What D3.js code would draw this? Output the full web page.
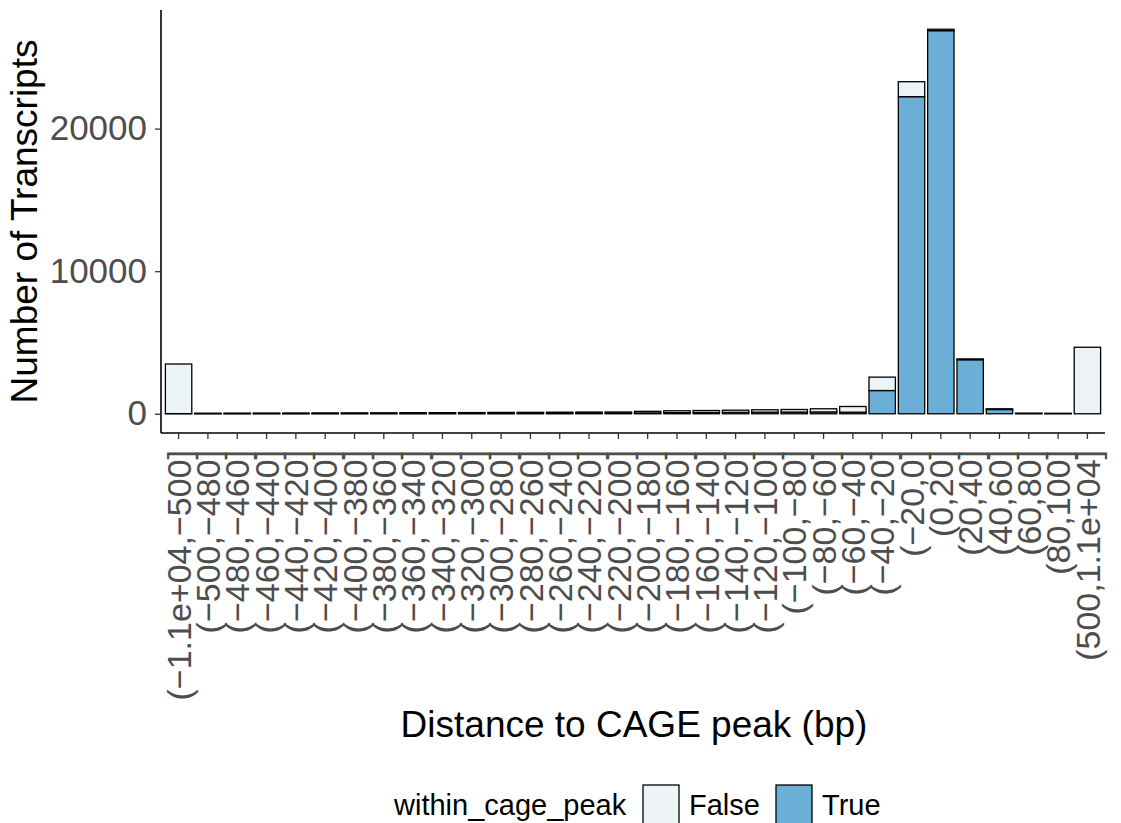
<!DOCTYPE html>
<html>
<head>
<meta charset="utf-8">
<script src="https://cdn.jsdelivr.net/npm/d3@7"></script>
<style>
  html, body { margin: 0; padding: 0; background: #ffffff; }
  svg { display: block; font-family: "Liberation Sans", Arial, sans-serif; }
</style>
</head>
<body>
<svg id="chart" width="1121" height="823"></svg>
<script>
// Distance bins (bp) relative to the CAGE peak
const bins = [
  "(−1.1e+04,−500]", "(−500,−480]", "(−480,−460]", "(−460,−440]", "(−440,−420]",
  "(−420,−400]", "(−400,−380]", "(−380,−360]", "(−360,−340]", "(−340,−320]",
  "(−320,−300]", "(−300,−280]", "(−280,−260]", "(−260,−240]", "(−240,−220]",
  "(−220,−200]", "(−200,−180]", "(−180,−160]", "(−160,−140]", "(−140,−120]",
  "(−120,−100]", "(−100,−80]", "(−80,−60]", "(−60,−40]", "(−40,−20]",
  "(−20,0]", "(0,20]", "(20,40]", "(40,60]", "(60,80]", "(80,100]", "(500,1.1e+04]"
];

// Transcript counts per bin, split by within_cage_peak
const countsTrue = [
  10, 10, 10, 12, 12, 15, 15, 18, 18, 20,
  20, 22, 25, 25, 30, 30, 60, 80, 90, 100,
  110, 120, 130, 110, 1630, 22240, 26870, 3790, 300, 20,
  15, 0
];
const countsFalse = [
  3480, 30, 35, 38, 43, 45, 50, 52, 57, 60,
  65, 73, 75, 85, 90, 95, 110, 130, 140, 150,
  170, 180, 220, 400, 940, 1050, 100, 60, 50, 20,
  15, 4665
];

const groups = ["False", "True"];
const groupColors = ["#EDF4F8", "#6BAED6"];
const yTicks = [0, 10000, 20000];

const svg = d3.select("#chart");
const panel = { left: 161, right: 1105, top: 10, bottom: 433 };
const font = "'Liberation Sans', Arial, sans-serif";

const rows = bins.map((b, i) => ({ bin: b, True: countsTrue[i], False: countsFalse[i] }));
// True sits at the bottom of each stack, False above it
const stack = d3.stack().keys(["True", "False"])(rows);

const maxTotal = d3.max(rows, d => d.True + d.False);
const pad = 0.05 * maxTotal;

// Outer padding chosen so the first/last bar centres sit 0.6 steps in from the panel edges
const x = d3.scaleBand()
  .domain(bins)
  .range([panel.left, panel.right])
  .paddingInner(0.1)
  .paddingOuter(0.15);

const y = d3.scaleLinear()
  .domain([-pad, maxTotal + pad])
  .range([panel.bottom, panel.top]);

const color = d3.scaleOrdinal().domain(groups).range(groupColors);

// Bars
svg.append("g")
  .selectAll("g")
  .data(stack)
  .join("g")
  .attr("fill", d => color(d.key))
  .selectAll("rect")
  .data(d => d)
  .join("rect")
  .attr("x", d => x(d.data.bin))
  .attr("width", x.bandwidth())
  .attr("y", d => y(d[1]))
  .attr("height", d => Math.max(0, y(d[0]) - y(d[1])))
  .attr("stroke", "#000")
  .attr("stroke-width", 1.3);

// Y axis
const yAxis = svg.append("g")
  .attr("transform", `translate(${panel.left},0)`)
  .call(d3.axisLeft(y).tickValues(yTicks).tickFormat(d3.format("d")).tickSize(6).tickPadding(8));
yAxis.select(".domain").attr("d", `M0,${panel.top}V${panel.bottom}`).attr("stroke", "#000").attr("stroke-width", 1.6);
yAxis.selectAll(".tick line").attr("stroke", "#333").attr("stroke-width", 1.3);
yAxis.selectAll(".tick text")
  .attr("fill", "#4D4D4D")
  .style("font-size", "35px")
  .style("font-family", font);

// X axis
const xAxis = svg.append("g")
  .attr("transform", `translate(0,${panel.bottom})`)
  .call(d3.axisBottom(x).tickSize(6).tickSizeOuter(0));
xAxis.select(".domain").attr("d", `M${panel.left},0H${panel.right}`).attr("stroke", "#000").attr("stroke-width", 1.6);
xAxis.selectAll(".tick line").attr("stroke", "#333").attr("stroke-width", 1.3);
xAxis.selectAll(".tick text")
  .attr("fill", "#4D4D4D")
  .style("font-size", "34px")
  .style("font-family", font)
  .attr("text-anchor", "end")
  .attr("transform", "translate(0,17) rotate(-90)")
  .attr("x", 0)
  .attr("y", 0)
  .attr("dy", "0.36em");

// Axis titles
svg.append("text")
  .attr("x", 634)
  .attr("y", 737)
  .attr("text-anchor", "middle")
  .style("font-size", "37px")
  .attr("fill", "#000")
  .text("Distance to CAGE peak (bp)");

svg.append("text")
  .attr("transform", `translate(37,${(panel.top + panel.bottom) / 2}) rotate(-90)`)
  .attr("text-anchor", "middle")
  .style("font-size", "37px")
  .attr("fill", "#000")
  .text("Number of Transcripts");

// Legend
const legend = svg.append("g");
legend.append("text")
  .attr("x", 394)
  .attr("y", 815)
  .style("font-size", "29px")
  .attr("fill", "#000")
  .text("within_cage_peak");

const keyX = [643, 776];
groups.forEach((g, i) => {
  legend.append("rect")
    .attr("x", keyX[i])
    .attr("y", 785)
    .attr("width", 36)
    .attr("height", 40)
    .attr("fill", color(g))
    .attr("stroke", "#000")
    .attr("stroke-width", 1.3);
  legend.append("text")
    .attr("x", keyX[i] + 46)
    .attr("y", 815)
    .style("font-size", "29px")
    .attr("fill", "#000")
    .text(g);
});
</script>
</body>
</html>
